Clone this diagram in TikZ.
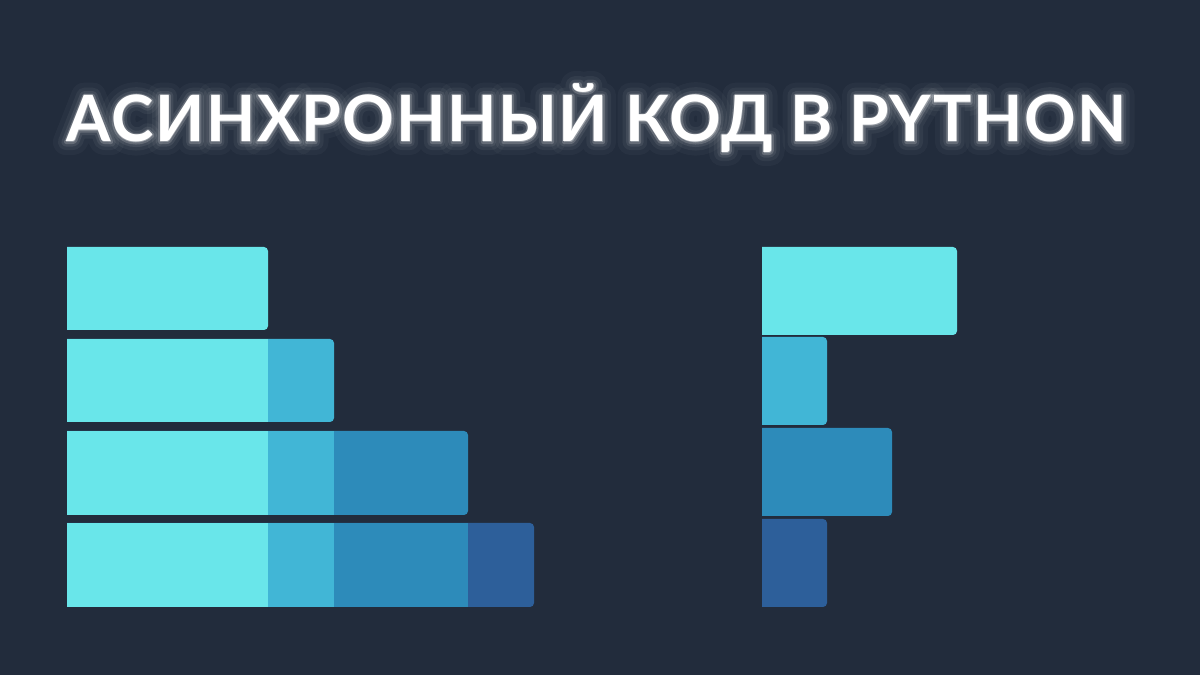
\documentclass[tikz,border=0pt]{standalone}
\usepackage{fontspec}
\newfontfamily\titlefont[LetterSpace=2.6]{Lato}
\definecolor{bg}{HTML}{222C3C}
\definecolor{cA}{HTML}{69E6EA}
\definecolor{cB}{HTML}{41B6D6}
\definecolor{cC}{HTML}{2D8BBA}
\definecolor{cD}{HTML}{2D5F9A}
\newcommand{\rbar}[5]{% x0, ytop, x1, ybottom (image px), colour
  \fill[#5] (#1,{675-#4}) -- ({#3-4},{675-#4}) arc[start angle=-90,end angle=0,radius=4] -- (#3,{675-#2-4}) arc[start angle=0,end angle=90,radius=4] -- (#1,{675-#2}) -- cycle;}
\newcommand{\sbar}[5]{%
  \fill[#5] (#1,{675-#4}) rectangle (#3,{675-#2});}
\newcommand{\titletext}{\titlefont\bfseries АСИНХРОННЫЙ КОД В PYTHON}
\newcommand{\glowtext}[1]{\special{pdf:literal 2 Tr #1 w 1 j 1 J}\titletext\special{pdf:literal 0 Tr}}
\begin{document}
\begin{tikzpicture}[x=1pt,y=1pt,
  titlestyle/.style={anchor=base,inner sep=0pt,font=\fontsize{64}{64}\selectfont}]
\fill[bg] (0,0) rectangle (1200,675);
\useasboundingbox (0,0) rectangle (1200,675);
% glow
\node[titlestyle,text=white,opacity=0.03] (glowA) at (596.5,533) {\glowtext{26}};
\node[titlestyle,text=white,opacity=0.05] (glowB) at (596.5,533) {\glowtext{16}};
\node[titlestyle,text=white,opacity=0.08] (glowC) at (596.5,533) {\glowtext{9}};
\node[titlestyle,text=white,opacity=0.18] (glowD) at (596.5,533) {\glowtext{4}};
\node[titlestyle,text=white] (title) at (596.5,533) {\titletext};
% left bars
\rbar{67}{247}{268}{330}{cA}
\rbar{67}{339}{334}{422}{cB}
\sbar{67}{339}{268}{422}{cA}
\rbar{67}{431}{468}{515}{cC}
\sbar{67}{431}{334}{515}{cB}
\sbar{67}{431}{268}{515}{cA}
\rbar{67}{523}{534}{607}{cD}
\sbar{67}{523}{468}{607}{cC}
\sbar{67}{523}{334}{607}{cB}
\sbar{67}{523}{268}{607}{cA}
% right bars
\rbar{762}{247}{957}{335}{cA}
\rbar{762}{337}{827}{425}{cB}
\rbar{762}{428}{892}{516}{cC}
\rbar{762}{519}{827}{607}{cD}
\end{tikzpicture}
\end{document}
